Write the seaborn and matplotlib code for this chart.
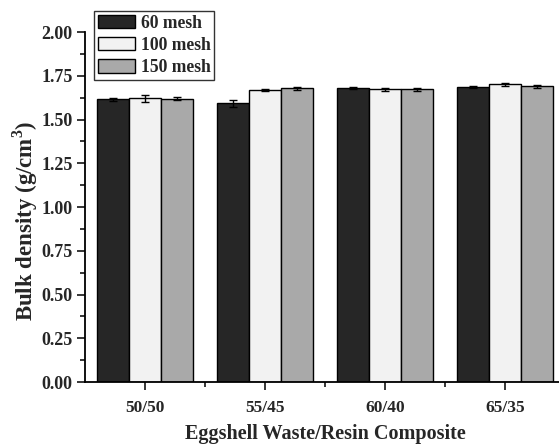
import numpy as np
import pandas as pd
import matplotlib
matplotlib.use("Agg")
import matplotlib.pyplot as plt
from matplotlib.ticker import MultipleLocator, FixedLocator
import seaborn as sns

# data
composites = ["50/50", "55/45", "60/40", "65/35"]
mesh_labels = ["60 mesh", "100 mesh", "150 mesh"]
density_60 = [1.615, 1.592, 1.678, 1.684]
density_100 = [1.622, 1.669, 1.672, 1.701]
density_150 = [1.620, 1.678, 1.672, 1.691]
err_60 = [0.007, 0.018, 0.006, 0.006]
err_100 = [0.020, 0.008, 0.007, 0.010]
err_150 = [0.008, 0.008, 0.008, 0.009]
bar_colors = ["#262626", "#f2f2f2", "#a9a9a9"]

df = pd.DataFrame({
    "Composite": composites * 3,
    "Mesh": np.repeat(mesh_labels, len(composites)),
    "Density": density_60 + density_100 + density_150,
    "Err": err_60 + err_100 + err_150,
})

sns.set_theme(style="ticks")
plt.rcParams["font.family"] = ["Liberation Serif", "DejaVu Serif"]
plt.rcParams["font.weight"] = "bold"
plt.rcParams["mathtext.fontset"] = "custom"
plt.rcParams["mathtext.rm"] = "Liberation Serif:bold"
plt.rcParams["mathtext.bf"] = "Liberation Serif:bold"

fig = plt.figure(figsize=(5.59, 4.47), dpi=100)
ax = fig.add_axes([0.152, 0.1454, 0.859, 0.783])

sns.barplot(data=df, x="Composite", y="Density", hue="Mesh", order=composites,
            hue_order=mesh_labels, palette=bar_colors, edgecolor="black",
            linewidth=1.0, errorbar=None, width=0.8, ax=ax)

# error bars on top of each bar
for container, mesh in zip(ax.containers, mesh_labels):
    sub = df[df["Mesh"] == mesh].set_index("Composite").loc[composites]
    xs = [p.get_x() + p.get_width() / 2 for p in container.patches]
    ax.errorbar(xs, sub["Density"], yerr=sub["Err"], fmt="none",
                ecolor="black", elinewidth=1.0, capsize=3, capthick=1.0)

ax.set_xlim(-0.5, 3.5)
ax.set_ylim(0, 2.0)
ax.yaxis.set_minor_locator(MultipleLocator(0.125))
ax.xaxis.set_minor_locator(FixedLocator([0.5, 1.5, 2.5, 3.5]))
yt = np.arange(0, 2.01, 0.25)
ax.set_yticks(yt)
ax.set_yticklabels([f"{v:.2f}" for v in yt])

ax.tick_params(axis="both", which="major", direction="out", length=6, width=1.1,
               color="black", pad=3)
ax.tick_params(axis="both", which="minor", direction="out", length=3.5, width=1.1,
               color="black")
ax.tick_params(axis="y", labelsize=13)
ax.tick_params(axis="x", labelsize=12.5, pad=7)
for lab in ax.get_xticklabels() + ax.get_yticklabels():
    lab.set_fontweight("bold")

for side in ["top", "right"]:
    ax.spines[side].set_visible(False)
for side in ["left", "bottom"]:
    ax.spines[side].set_linewidth(1.3)
    ax.spines[side].set_color("black")

ax.set_xlabel("Eggshell Waste/Resin Composite", fontsize=14.5, fontweight="bold",
              labelpad=6)
ax.set_ylabel("Bulk density (g/cm$^{3}$)", fontsize=16.5, fontweight="bold")
ax.yaxis.set_label_coords(-0.094, 0.46)

leg = ax.legend(loc="upper left", bbox_to_anchor=(94 / 559, 1 - 11 / 447),
                bbox_transform=fig.transFigure, frameon=True, fancybox=False,
                prop={"weight": "bold", "size": 12.7}, handlelength=2.15,
                handleheight=0.8, borderpad=0.2, labelspacing=0.3,
                handletextpad=0.3, borderaxespad=0)
leg.get_frame().set_edgecolor("black")
leg.get_frame().set_linewidth(1.0)

fig.savefig("out.png", dpi=100)
